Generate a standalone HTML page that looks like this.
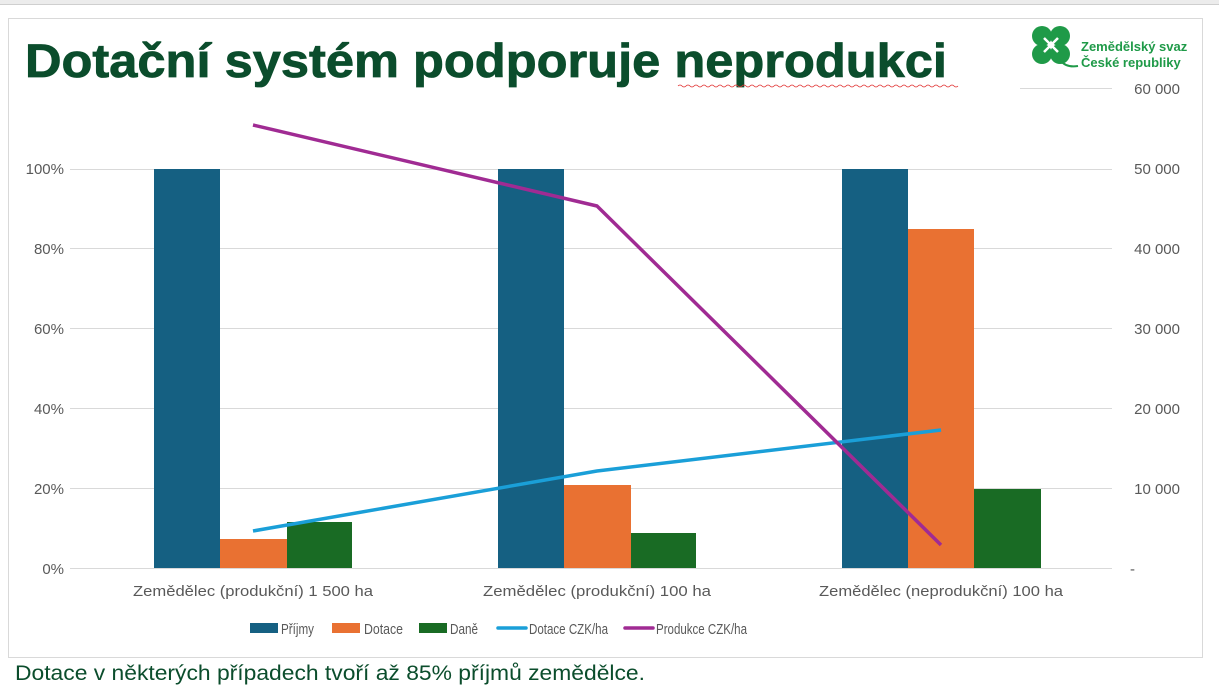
<!DOCTYPE html>
<html><head><meta charset="utf-8"><style>
body{margin:0;background:#fff;width:1219px;height:688px;overflow:hidden;font-family:"Liberation Sans",sans-serif}
</style></head><body>
<svg width="1219" height="688" xmlns="http://www.w3.org/2000/svg" font-family="Liberation Sans, sans-serif">
<rect x="0" y="0" width="1219" height="4" fill="#ececec"/>
<line x1="0" y1="4.5" x2="1219" y2="4.5" stroke="#cfcfcf"/>
<rect x="8.5" y="18.5" width="1194" height="639" fill="#fff" stroke="#d9d9d9"/>
<g stroke="#d9d9d9" stroke-width="1">
<line x1="1020" y1="88.5" x2="1112" y2="88.5"/>
<line x1="70" y1="169.5" x2="1112" y2="169.5"/>
<line x1="70" y1="248.5" x2="1112" y2="248.5"/>
<line x1="70" y1="328.5" x2="1112" y2="328.5"/>
<line x1="70" y1="408.5" x2="1112" y2="408.5"/>
<line x1="70" y1="488.5" x2="1112" y2="488.5"/>
<line x1="70" y1="568.5" x2="1112" y2="568.5"/>
</g>
<g>
<rect x="154" y="169" width="66" height="399" fill="#156082"/>
<rect x="220" y="539" width="67" height="29" fill="#e97132"/>
<rect x="287" y="522" width="65" height="46" fill="#196b24"/>
<rect x="498" y="169" width="66" height="399" fill="#156082"/>
<rect x="564" y="485" width="67" height="83" fill="#e97132"/>
<rect x="631" y="533" width="65" height="35" fill="#196b24"/>
<rect x="842" y="169" width="66" height="399" fill="#156082"/>
<rect x="908" y="229" width="66" height="339" fill="#e97132"/>
<rect x="974" y="489" width="67" height="79" fill="#196b24"/>
</g>
<polyline points="253,531 597,471 941,430" fill="none" stroke="#1a9fd8" stroke-width="3.5" stroke-linejoin="round"/>
<polyline points="253,125 597,206 941,545" fill="none" stroke="#a02b93" stroke-width="3.5" stroke-linejoin="round"/>
<g font-size="15" fill="#595959" text-anchor="end">
<text x="64" y="174">100%</text>
<text x="64" y="254">80%</text>
<text x="64" y="334">60%</text>
<text x="64" y="414">40%</text>
<text x="64" y="494">20%</text>
<text x="64" y="574">0%</text>
</g>
<g font-size="15" fill="#595959" text-anchor="end">
<text x="1180" y="94">60 000</text>
<text x="1180" y="174">50 000</text>
<text x="1180" y="254">40 000</text>
<text x="1180" y="334">30 000</text>
<text x="1180" y="414">20 000</text>
<text x="1180" y="494">10 000</text>
<text x="1135" y="574">-</text>
</g>
<g font-size="15" fill="#595959" text-anchor="middle">
<text x="253" y="596" textLength="240" lengthAdjust="spacingAndGlyphs">Zemědělec (produkční) 1 500 ha</text>
<text x="597" y="596" textLength="228" lengthAdjust="spacingAndGlyphs">Zemědělec (produkční) 100 ha</text>
<text x="941" y="596" textLength="244" lengthAdjust="spacingAndGlyphs">Zemědělec (neprodukční) 100 ha</text>
</g>
<g font-size="15" fill="#595959">
<rect x="250" y="623" width="28" height="10" fill="#156082"/>
<text x="281" y="634" textLength="33" lengthAdjust="spacingAndGlyphs">Příjmy</text>
<rect x="332" y="623" width="28" height="10" fill="#e97132"/>
<text x="364" y="634" textLength="39" lengthAdjust="spacingAndGlyphs">Dotace</text>
<rect x="419" y="623" width="28" height="10" fill="#196b24"/>
<text x="450" y="634" textLength="28" lengthAdjust="spacingAndGlyphs">Daně</text>
<line x1="498" y1="628" x2="526" y2="628" stroke="#1a9fd8" stroke-width="3.5" stroke-linecap="round"/>
<text x="529" y="634" textLength="79" lengthAdjust="spacingAndGlyphs">Dotace CZK/ha</text>
<line x1="625" y1="628" x2="653" y2="628" stroke="#a02b93" stroke-width="3.5" stroke-linecap="round"/>
<text x="656" y="634" textLength="91" lengthAdjust="spacingAndGlyphs">Produkce CZK/ha</text>
</g>
<text x="25" y="77" font-size="47" font-weight="bold" fill="#0b4d2c" stroke="#0b4d2c" stroke-width="0.8" textLength="922" lengthAdjust="spacingAndGlyphs">Dotační systém podporuje neprodukci</text>
<path d="M678 86 q2 -2 4 0 t4 0 t4 0 t4 0 t4 0 t4 0 t4 0 t4 0 t4 0 t4 0 t4 0 t4 0 t4 0 t4 0 t4 0 t4 0 t4 0 t4 0 t4 0 t4 0 t4 0 t4 0 t4 0 t4 0 t4 0 t4 0 t4 0 t4 0 t4 0 t4 0 t4 0 t4 0 t4 0 t4 0 t4 0 t4 0 t4 0 t4 0 t4 0 t4 0 t4 0 t4 0 t4 0 t4 0 t4 0 t4 0 t4 0 t4 0 t4 0 t4 0 t4 0 t4 0 t4 0 t4 0 t4 0 t4 0 t4 0 t4 0 t4 0 t4 0 t4 0 t4 0 t4 0 t4 0 t4 0 t4 0 t4 0 t4 0 t4 0 t4 0" fill="none" stroke="#e03030" stroke-width="0.8"/>
<g fill="#1f9a48">
<circle cx="1042" cy="36" r="10"/><circle cx="1060" cy="36" r="10"/>
<circle cx="1042" cy="54" r="10"/><circle cx="1060" cy="54" r="10"/>
<path d="M1051 45 L1044 38 M1051 45 L1058 38 M1051 45 L1044 52 M1051 45 L1058 52" stroke="#fff" stroke-width="2.5"/>
<path d="M1060 60 q6 8 18 6" stroke="#1f9a48" stroke-width="2" fill="none"/>
</g>
<text x="1081" y="51" font-size="13" font-weight="bold" fill="#1f9a48">Zemědělský svaz</text>
<text x="1081" y="67" font-size="13" font-weight="bold" fill="#1f9a48">České republiky</text>
<text x="15" y="680" font-size="21" fill="#0b4d2c" textLength="630" lengthAdjust="spacingAndGlyphs">Dotace v některých případech tvoří až 85% příjmů zemědělce.</text>
</svg>
</body></html>
